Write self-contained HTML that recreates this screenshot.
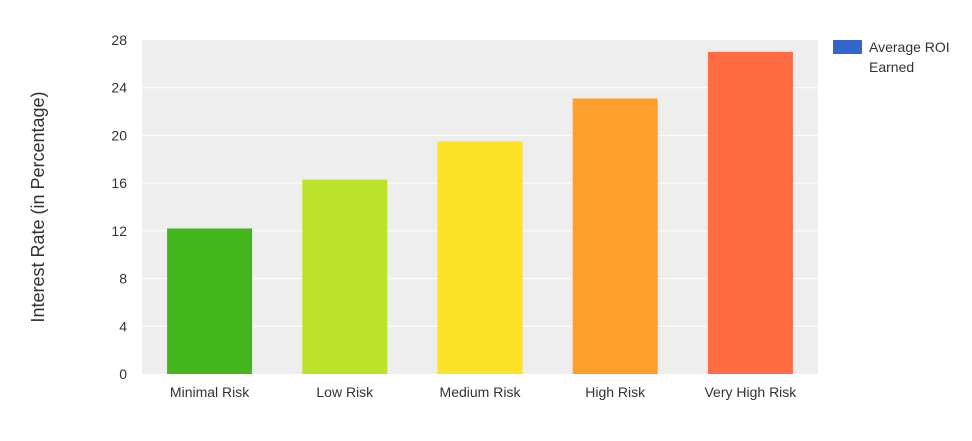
<!DOCTYPE html>
<html><head><meta charset="utf-8"><style>
body{margin:0;background:#fff;font-family:"Liberation Sans",sans-serif;}
svg text{font-family:"Liberation Sans",sans-serif;}
</style></head><body>
<svg width="972" height="436" id="chart">
<rect x="142" y="40" width="676" height="334" fill="#eeeeee"/>
<g id="grid"></g><g id="bars"></g><g id="ticks"></g><g id="xlabels"></g>
<text transform="translate(44,207) rotate(-90)" text-anchor="middle" font-size="18" fill="#333">Interest Rate  (in Percentage)</text>
<rect x="833" y="40" width="29" height="14" fill="#3366cc"/>
<text x="869" y="52" font-size="14" fill="#333"><tspan x="869">Average ROI</tspan><tspan x="869" dy="20">Earned</tspan></text>
</svg>
<script>
const categories=["Minimal Risk","Low Risk","Medium Risk","High Risk","Very High Risk"];
const values=[12.2,16.3,19.5,23.1,27.0];
const colors=["#43b51d","#bce32a","#fde327","#fe9f2b","#ff6b42"];
const yTicks=[0,4,8,12,16,20,24,28];
const NS="http://www.w3.org/2000/svg";
const x0=142,pw=676,y0=374,ph=334,yMax=28;
const y=v=>y0-v/yMax*ph;
const band=pw/categories.length,bw=85;
function mk(t,a,p){const e=document.createElementNS(NS,t);for(const k in a)e.setAttribute(k,a[k]);p.appendChild(e);return e;}
const g=document.getElementById('grid'),tk=document.getElementById('ticks');
yTicks.forEach(v=>{
 if(v>0&&v<yMax){const l=mk('line',{x1:x0,x2:x0+pw,y1:y(v),y2:y(v),stroke:'#ffffff','stroke-width':1},g);
 
 }
 const t=mk('text',{x:127,y:y(v)+5,'text-anchor':'end','font-size':14,fill:'#333'},tk);t.textContent=v;
 
 
});
const bg=document.getElementById('bars'),xl=document.getElementById('xlabels');
categories.forEach((c,i)=>{
 const cx=x0+band*(i+0.5);
 const r=mk('rect',{x:cx-bw/2,y:y(values[i]),width:bw,height:y0-y(values[i]),fill:colors[i]},bg);
 
 
 const t=mk('text',{x:cx,y:397,'text-anchor':'middle','font-size':14,fill:'#333'},xl);t.textContent=c;
 
 
});
</script>
</body></html>
